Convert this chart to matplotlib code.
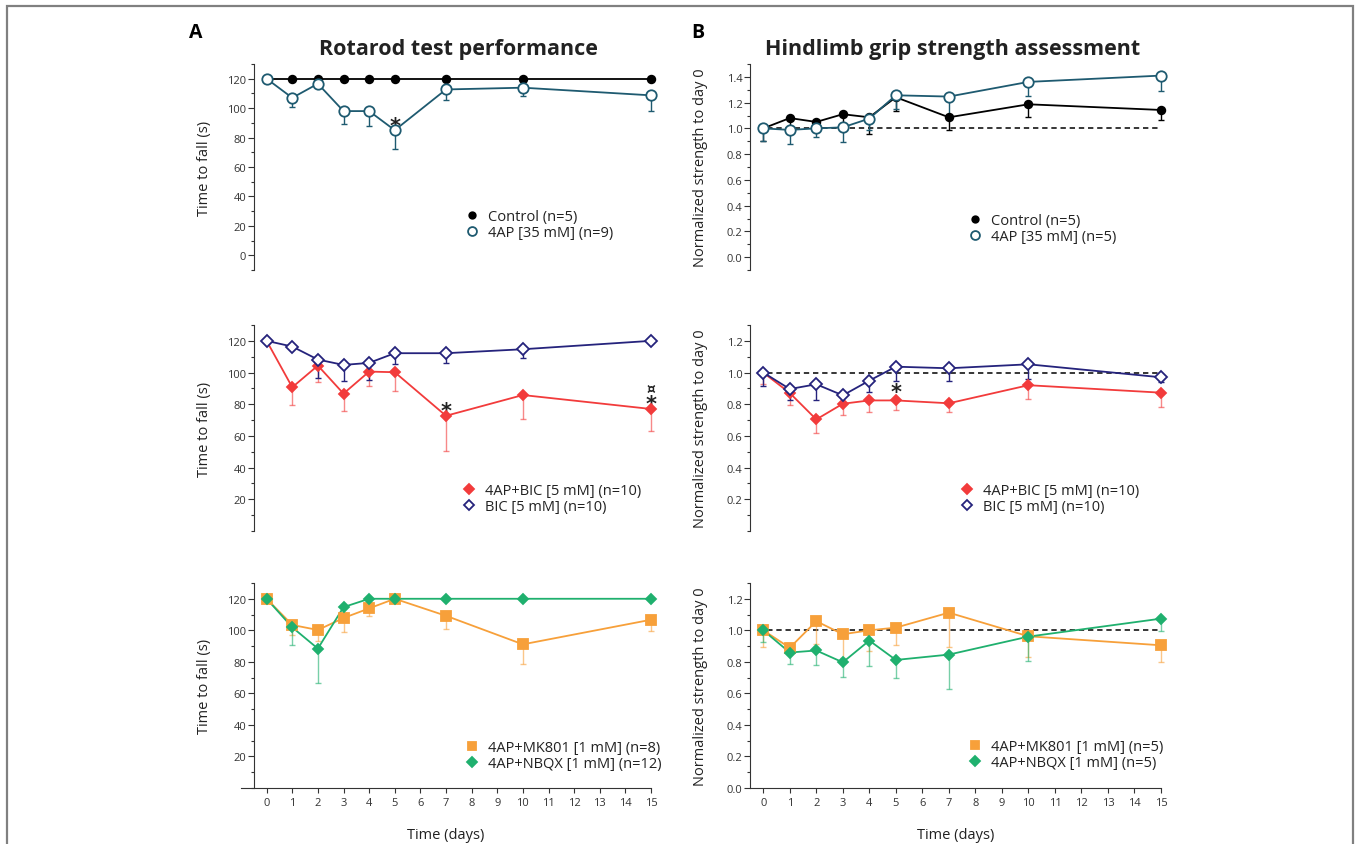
"""Rotarod and hindlimb grip strength panels (A/B), three treatment rows each."""

import matplotlib
matplotlib.use("Agg")
import matplotlib.pyplot as plt
from matplotlib.patches import Rectangle
from matplotlib.ticker import MultipleLocator
import numpy as np

plt.rcParams["font.family"] = ["Open Sans", "DejaVu Sans"]

W, H = 1358, 845

days = [0, 1, 2, 3, 4, 5, 7, 10, 15]

# --- A: rotarod, time to fall (s) ---
rr_control = [120, 120, 120, 120, 120, 120, 120, 120, 120]
rr_4ap = [120, 107, 116.6, 98, 98, 85, 112.7, 113.9, 108.7]
rr_4ap_low = [120, 101, 116.6, 89.3, 87.7, 72.3, 105.7, 108.2, 98]

rr_bic = [120, 116.4, 108.2, 104.8, 106.1, 112.2, 112.2, 114.7, 120]
rr_bic_low = [120, 116.4, 96.4, 94.7, 95.5, 105.2, 106.1, 109.4, 120]
rr_4apbic = [120, 90.7, 104.4, 86.7, 100.6, 100.2, 72.7, 85.8, 77]
rr_4apbic_low = [120, 79.3, 93.8, 75.9, 91.5, 88.4, 50.8, 70.4, 63.2]

rr_mk801 = [120, 103.4, 100.2, 107.8, 113.9, 120, 109.2, 91.1, 106.7]
rr_mk801_low = [120, 97.2, 93, 98.9, 109.2, 120, 101, 78.7, 99.7]
rr_nbqx = [120, 101.9, 88.4, 114.7, 120, 120, 120, 120, 120]
rr_nbqx_low = [120, 90.7, 66.6, 114.7, 120, 120, 120, 120, 120]

# --- B: grip strength, normalized to day 0 ---
gs_control = [1.0, 1.08, 1.05, 1.11, 1.086, 1.242, 1.086, 1.187, 1.143]
gs_control_low = [0.904, 1.0, 0.99, 1.03, 0.956, 1.133, 0.99, 1.091, 1.065]
gs_4ap = [1.0, 0.988, 1.0, 1.008, 1.076, 1.257, 1.247, 1.361, 1.41]
gs_4ap_low = [0.90, 0.879, 0.931, 0.894, 0.99, 1.153, 1.107, 1.25, 1.293]

gs_bic = [1.0, 0.896, 0.926, 0.856, 0.949, 1.037, 1.027, 1.052, 0.970]
gs_bic_low = [0.917, 0.827, 0.829, 0.856, 0.875, 0.949, 0.949, 0.96, 0.94]
gs_4apbic = [1.0, 0.871, 0.704, 0.803, 0.824, 0.824, 0.806, 0.920, 0.873]
gs_4apbic_low = [0.93, 0.795, 0.62, 0.734, 0.749, 0.763, 0.749, 0.833, 0.78]

gs_mk801 = [1.0, 0.889, 1.058, 0.975, 1.0, 1.017, 1.112, 0.962, 0.905]
gs_mk801_low = [0.895, 0.86, 0.916, 0.825, 0.867, 0.905, 0.891, 0.832, 0.796]
gs_nbqx = [1.0, 0.859, 0.872, 0.797, 0.935, 0.812, 0.846, 0.960, 1.074]
gs_nbqx_low = [0.927, 0.785, 0.779, 0.707, 0.775, 0.695, 0.627, 0.806, 0.994]

TEAL = "#1e5a70"
NAVY = "#25237c"
RED = "#f23b3b"
ORANGE = "#f7a03a"
GREEN = "#1fb06e"

STYLES = {
    "control": dict(color="black", marker="o", ms=5.5, mfc="black"),
    "4ap": dict(color=TEAL, marker="o", ms=7.5, mfc="white"),
    "bic": dict(color=NAVY, marker="D", ms=6.5, mfc="white"),
    "4apbic": dict(color=RED, marker="D", ms=5.5, mfc=RED),
    "mk801": dict(color=ORANGE, marker="s", ms=7, mfc=ORANGE),
    "nbqx": dict(color=GREEN, marker="D", ms=5.5, mfc=GREEN),
}


def px_rect(left, top, right, bottom):
    return [left / W, 1 - bottom / H, (right - left) / W, (bottom - top) / H]


def series(ax, y, low, key, label, err_alpha=1.0):
    st = STYLES[key]
    y = np.asarray(y, dtype=float)
    if low is not None:
        lo = y - np.asarray(low, dtype=float)
        ax.errorbar(days, y, yerr=[lo, np.zeros_like(lo)], fmt="none",
                    ecolor=st["color"], elinewidth=1.0, capsize=2.5,
                    capthick=1.0, alpha=err_alpha, zorder=2, clip_on=False)
    ax.plot(days, y, color=st["color"], lw=1.3, zorder=3, clip_on=False)
    ax.plot(days, y, ls="none", marker=st["marker"], ms=st["ms"],
            mfc=st["mfc"], mec=st["color"], mew=1.3, label=label,
            zorder=4, clip_on=False)


def style_axes(ax, xlim, ylim, major, spine_x, fmt, show_x, ymin_label):
    ax.set_xlim(*xlim)
    ax.set_ylim(*ylim)
    for s in ("top", "right"):
        ax.spines[s].set_visible(False)
    ax.spines["left"].set_position(("data", spine_x))
    ax.spines["left"].set_color("#333333")
    ax.yaxis.set_minor_locator(MultipleLocator(major / 2))
    ticks = [t for t in np.arange(ymin_label, ylim[1], major)]
    ax.set_yticks(ticks)
    ax.set_yticklabels([fmt.format(t) for t in ticks])
    ax.tick_params(axis="y", which="major", direction="out", length=4,
                   width=0.8, labelsize=8, colors="#333333", pad=1.5)
    ax.tick_params(axis="y", which="minor", direction="out", length=2.5,
                   width=0.8, colors="#333333")
    if show_x:
        ax.spines["bottom"].set_color("#333333")
        ax.set_xticks(range(0, 16))
        ax.tick_params(axis="x", direction="out", length=3.5, width=0.8,
                       labelsize=8, colors="#333333", pad=3)
        ax.set_xlabel("Time (days)", fontsize=10.5, color="#222222")
        ax.xaxis.set_label_coords(0.5, -0.19)
    else:
        ax.spines["bottom"].set_visible(False)
        ax.set_xticks([])


def legend_at(ax, x_px, y_px):
    ax.legend(loc="upper left", bbox_to_anchor=(x_px / W, 1 - y_px / H),
              bbox_transform=ax.figure.transFigure, frameon=False,
              fontsize=10.5, handlelength=1.0, handletextpad=0.6,
              labelspacing=0.05, borderpad=0, borderaxespad=0,
              labelcolor="#222222", markerscale=0.85)


def star(ax, x, y, text="*", size=15):
    ax.text(x, y, text, ha="center", va="center", fontsize=size,
            fontweight="bold", color="#222222", family="DejaVu Sans")


fig = plt.figure(figsize=(W / 100, H / 100), dpi=100)

rows = [(65, 271), (326, 532), (584, 789)]
axA = [fig.add_axes(px_rect(241, t, 651, b)) for t, b in rows]
axB = [fig.add_axes(px_rect(750, t, 1161, b)) for t, b in rows]

# A top
ax = axA[0]
series(ax, rr_control, None, "control", "Control (n=5)")
series(ax, rr_4ap, rr_4ap_low, "4ap", "4AP [35 mM] (n=9)")
style_axes(ax, (-1, 15), (-10, 130), 20, -0.5, "{:.0f}", False, 0)
star(ax, 5, 88)
legend_at(ax, 465, 210)

# A middle
ax = axA[1]
series(ax, rr_4apbic, rr_4apbic_low, "4apbic", "4AP+BIC [5 mM] (n=10)", 0.6)
series(ax, rr_bic, rr_bic_low, "bic", "BIC [5 mM] (n=10)")
style_axes(ax, (-1, 15), (0, 130), 20, -0.5, "{:.0f}", False, 20)
star(ax, 7, 76)
star(ax, 15, 80)
star(ax, 15, 90.5, "¤", 10)
legend_at(ax, 462, 484)

# A bottom
ax = axA[2]
series(ax, rr_mk801, rr_mk801_low, "mk801", "4AP+MK801 [1 mM] (n=8)", 0.6)
series(ax, rr_nbqx, rr_nbqx_low, "nbqx", "4AP+NBQX [1 mM] (n=12)", 0.6)
style_axes(ax, (-1, 15), (0, 130), 20, -0.5, "{:.0f}", True, 20)
legend_at(ax, 465, 741)

# B top
ax = axB[0]
ax.hlines(1.0, -0.2, 15, colors="black", linestyles=(0, (3.5, 2.5)), lw=1.1, zorder=1)
series(ax, gs_control, gs_control_low, "control", "Control (n=5)")
series(ax, gs_4ap, gs_4ap_low, "4ap", "4AP [35 mM] (n=5)")
style_axes(ax, (-0.5, 15), (-0.1, 1.5), 0.2, -0.5, "{:.1f}", False, 0.0)
legend_at(ax, 968, 214)

# B middle
ax = axB[1]
ax.hlines(1.0, -0.2, 15, colors="black", linestyles=(0, (3.5, 2.5)), lw=1.1, zorder=1)
series(ax, gs_4apbic, gs_4apbic_low, "4apbic", "4AP+BIC [5 mM] (n=10)", 0.6)
series(ax, gs_bic, gs_bic_low, "bic", "BIC [5 mM] (n=10)")
style_axes(ax, (-0.5, 15), (0, 1.3), 0.2, -0.5, "{:.1f}", False, 0.2)
star(ax, 5, 0.875)
legend_at(ax, 960, 484)

# B bottom
ax = axB[2]
ax.hlines(1.0, -0.2, 15, colors="black", linestyles=(0, (3.5, 2.5)), lw=1.1, zorder=1)
series(ax, gs_mk801, gs_mk801_low, "mk801", "4AP+MK801 [1 mM] (n=5)", 0.6)
series(ax, gs_nbqx, gs_nbqx_low, "nbqx", "4AP+NBQX [1 mM] (n=5)", 0.6)
style_axes(ax, (-0.5, 15), (0, 1.3), 0.2, -0.5, "{:.1f}", True, 0.0)
legend_at(ax, 968, 740)

for ax in axA:
    ax.set_ylabel("Time to fall (s)", fontsize=10.5, color="#222222")
    ax.yaxis.set_label_coords(-0.0707, 0.5)
for ax in axB:
    ax.set_ylabel("Normalized strength to day 0", fontsize=10.5, color="#222222")
    ax.yaxis.set_label_coords(-0.102, 0.5)

fig.text(458 / W, 1 - 50 / H, "Rotarod test performance", ha="center",
         va="center", fontsize=15.5, fontweight="bold", color="#222222")
fig.text(953 / W, 1 - 50 / H, "Hindlimb grip strength assessment", ha="center",
         va="center", fontsize=15.5, fontweight="bold", color="#222222")
fig.text(196 / W, 1 - 33 / H, "A", ha="center", va="center", fontsize=14,
         fontweight="bold")
fig.text(698 / W, 1 - 33 / H, "B", ha="center", va="center", fontsize=14,
         fontweight="bold")

# thin grey frame around the panel (open at the bottom)
fig.patches.append(Rectangle((7 / W, -0.05), (1353 - 7) / W, 1.05 - 7 / H,
                             transform=fig.transFigure, fill=False,
                             edgecolor="#808080", lw=1.6))

fig.savefig("out.png", dpi=100)
